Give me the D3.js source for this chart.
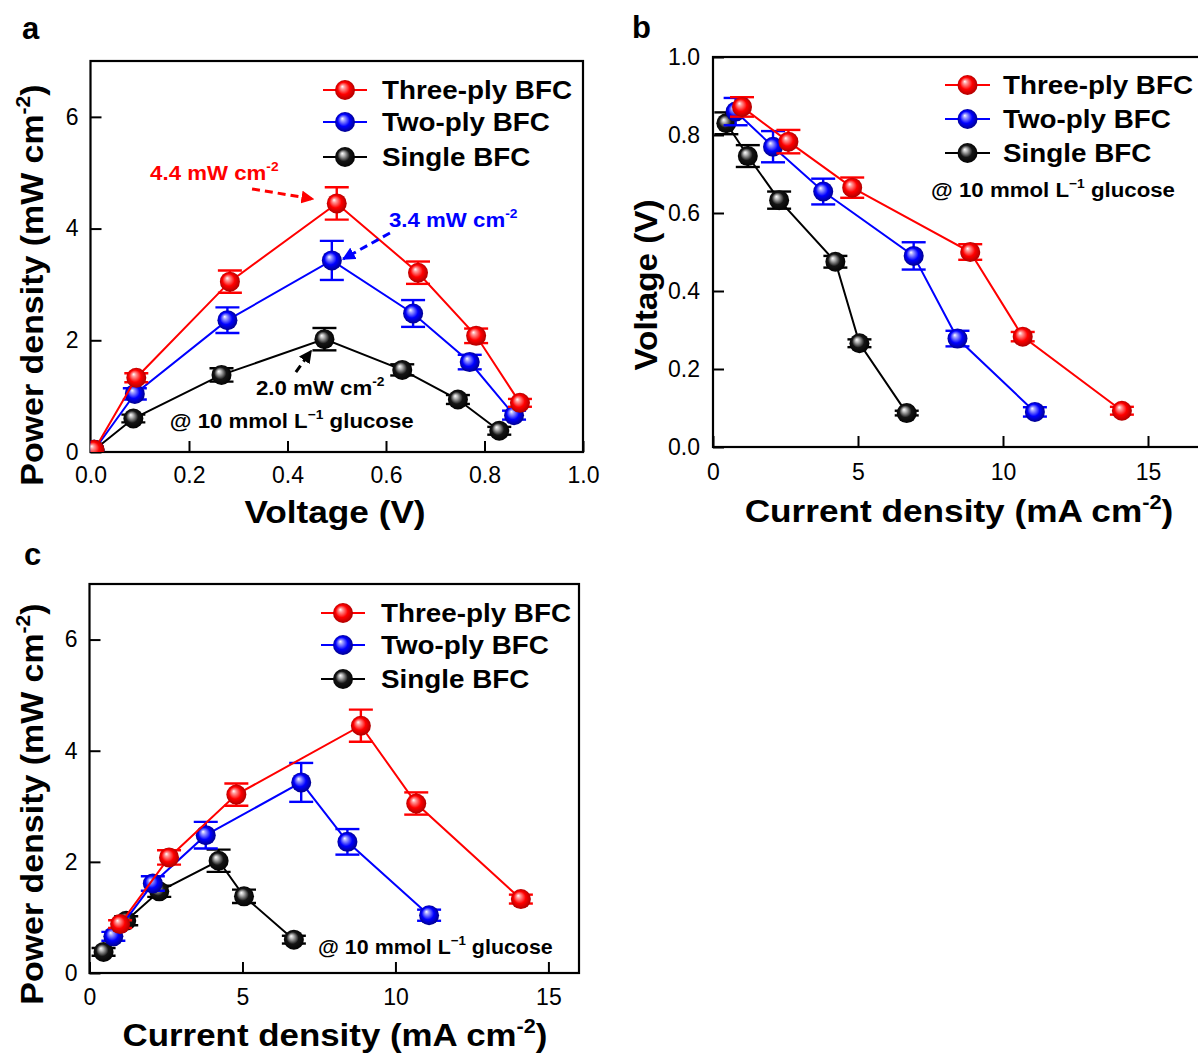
<!DOCTYPE html>
<html><head><meta charset="utf-8">
<script src="https://cdn.jsdelivr.net/npm/d3@7"></script>
<style>
body{margin:0;background:#fff}
svg{display:block}
text{font-family:"Liberation Sans",Arial,Helvetica,sans-serif}
</style>
</head><body>
<svg id="fig" width="1198" height="1054"></svg>
<script>
// ---------------- DATA ----------------
const seriesNames  = ["Three-ply BFC", "Two-ply BFC", "Single BFC"];
const seriesKeys   = ["three", "two", "single"];
const seriesColors = {three: "#ff0000", two: "#0000ff", single: "#000000"};

// Current density (mA cm-2)
const currentThree  = [1.0, 2.6, 4.8, 8.87, 10.68, 14.1];
const currentTwo    = [0.78, 2.07, 3.8, 6.92, 8.43, 11.1];
const currentSingle = [0.46, 1.2, 2.28, 4.22, 5.05, 6.68];

// Voltage (V)
const voltageThree  = [0.872, 0.783, 0.665, 0.50, 0.283, 0.093];
const voltageTwo    = [0.86, 0.77, 0.655, 0.49, 0.278, 0.09];
const voltageSingle = [0.83, 0.746, 0.633, 0.475, 0.266, 0.087];
const voltageErrThree  = [0.025, 0.03, 0.026, 0.02, 0.012, 0.01];
const voltageErrTwo    = [0.035, 0.04, 0.033, 0.035, 0.02, 0.012];
const voltageErrSingle = [0.028, 0.028, 0.022, 0.015, 0.01, 0.006];

// Power density (mW cm-2)
const powerThree  = [0.88, 2.08, 3.21, 4.45, 3.05, 1.33];
const powerTwo    = [0.66, 1.61, 2.48, 3.43, 2.36, 1.04];
const powerSingle = [0.38, 0.94, 1.47, 2.02, 1.38, 0.6];
const powerErrThree  = [0.07, 0.13, 0.2, 0.29, 0.2, 0.08];
const powerErrTwo    = [0.08, 0.13, 0.24, 0.35, 0.23, 0.1];
const powerErrSingle = [0.07, 0.08, 0.1, 0.2, 0.12, 0.07];

// Panel a starts every curve at the origin
const originVoltage = 0.008;
const originPower   = 0.04;

// Tick labels
const ticksA_x = [0, 0.2, 0.4, 0.6, 0.8, 1.0];
const ticksA_y = [0, 2, 4, 6];
const ticksB_x = [0, 5, 10, 15];
const ticksB_y = [0, 0.2, 0.4, 0.6, 0.8, 1.0];
const ticksC_x = [0, 5, 10, 15];
const ticksC_y = [0, 2, 4, 6];

const peakLabels = ["4.4 mW cm", "3.4 mW cm", "2.0 mW cm"];
const glucoseLabel = "@ 10 mmol L";

// ---------------- BUILD ----------------
const table = {
  three:  {I: currentThree,  V: voltageThree,  Ve: voltageErrThree,  P: powerThree,  Pe: powerErrThree},
  two:    {I: currentTwo,    V: voltageTwo,    Ve: voltageErrTwo,    P: powerTwo,    Pe: powerErrTwo},
  single: {I: currentSingle, V: voltageSingle, Ve: voltageErrSingle, P: powerSingle, Pe: powerErrSingle}
};
const darkColors  = {three: "#a00000", two: "#00007a", single: "#000000"};
const lightColors = {three: "#ff9a9a", two: "#a0a0ff", single: "#bdbdbd"};

const svg = d3.select("#fig");
const defs = svg.append("defs");
seriesKeys.forEach(k => {
  const g = defs.append("radialGradient").attr("id", "grad-" + k)
    .attr("cx", 0.5).attr("cy", 0.5).attr("r", 0.55).attr("fx", 0.36).attr("fy", 0.32);
  g.append("stop").attr("offset", "0%").attr("stop-color", "#ffffff");
  g.append("stop").attr("offset", "18%").attr("stop-color", lightColors[k]);
  g.append("stop").attr("offset", "55%").attr("stop-color", k === "single" ? "#151515" : seriesColors[k]);
  g.append("stop").attr("offset", "100%").attr("stop-color", darkColors[k]);
  defs.append("marker").attr("id", "arrow-" + k)
    .attr("viewBox", "0 0 10 10").attr("refX", 9).attr("refY", 5)
    .attr("markerUnits", "userSpaceOnUse").attr("markerWidth", 13).attr("markerHeight", 13)
    .attr("orient", "auto")
    .append("path").attr("d", "M0,0 L10,5 L0,10 Z").attr("fill", seriesColors[k]);
});

// text with optional superscripts; sx stretches along the reading direction
function richText(g, parts, o) {
  const sx = o.sx || 1;
  const tf = o.rotate
    ? `translate(${o.x},${o.y}) rotate(${o.rotate}) scale(${sx},1)`
    : `translate(${o.x},${o.y}) scale(${sx},1)`;
  const t = g.append("text")
    .attr("transform", tf)
    .attr("text-anchor", o.anchor || "start")
    .attr("font-size", o.size).attr("font-weight", o.weight || "bold")
    .attr("fill", o.fill || "#000");
  let raised = false;
  const shift = o.size * 0.42;
  parts.forEach(p => {
    const ts = t.append("tspan").text(p.t);
    if (p.sup && !raised) { ts.attr("dy", -shift).attr("font-size", o.size * 0.62); raised = true; }
    else if (p.sup) { ts.attr("font-size", o.size * 0.62); }
    else if (raised) { ts.attr("dy", shift); raised = false; }
  });
  return t;
}

function drawPanel(cfg) {
  const g = svg.append("g");
  const x = cfg.x, y = cfg.y;
  const [x0, x1] = x.range(), [y0, y1] = y.range();
  const clipId = "clip-" + cfg.id;
  defs.append("clipPath").attr("id", clipId).append("rect")
    .attr("x", x0).attr("y", y1).attr("width", x1 - x0).attr("height", y0 - y1);

  // axes
  const ax = g.append("g").attr("transform", `translate(0,${y0})`)
    .call(d3.axisBottom(x).tickValues(cfg.xTicks).tickFormat(cfg.xFmt).tickSize(-11).tickPadding(cfg.xPad));
  const ay = g.append("g").attr("transform", `translate(${x0},0)`)
    .call(d3.axisLeft(y).tickValues(cfg.yTicks).tickFormat(cfg.yFmt).tickSize(-11).tickPadding(cfg.yPad));
  [ax, ay].forEach(a => {
    a.select(".domain").remove();
    a.selectAll(".tick line").attr("stroke", "#000").attr("stroke-width", 2);
    a.selectAll(".tick text").attr("fill", "#000").attr("font-size", 23)
      .attr("font-family", "'Liberation Sans', Arial, sans-serif");
  });
  // frame
  g.append("rect").attr("x", x0).attr("y", y1).attr("width", x1 - x0).attr("height", y0 - y1)
    .attr("fill", "none").attr("stroke", "#000").attr("stroke-width", 2.2);

  const plot = g.append("g").attr("clip-path", `url(#${clipId})`);
  const order = ["single", "two", "three"];
  order.forEach(k => {
    const pts = cfg.points(k);
    const col = seriesColors[k];
    plot.append("path").datum(pts)
      .attr("d", d3.line().x(d => x(d.x)).y(d => y(d.y)))
      .attr("fill", "none").attr("stroke", col).attr("stroke-width", 2);
    const eb = plot.append("g").attr("stroke", col).attr("stroke-width", 2.4);
    pts.filter(d => d.e > 0).forEach(d => {
      const cx = x(d.x), ylo = y(d.y - d.e), yhi = y(d.y + d.e);
      eb.append("line").attr("x1", cx).attr("x2", cx).attr("y1", ylo).attr("y2", yhi);
      eb.append("line").attr("x1", cx - 12).attr("x2", cx + 12).attr("y1", ylo).attr("y2", ylo);
      eb.append("line").attr("x1", cx - 12).attr("x2", cx + 12).attr("y1", yhi).attr("y2", yhi);
    });
    plot.append("g").selectAll("circle").data(pts).join("circle")
      .attr("cx", d => x(d.x)).attr("cy", d => y(d.y)).attr("r", 10)
      .attr("fill", `url(#grad-${k})`);
  });

  // legend
  const L = cfg.legend;
  seriesKeys.forEach((k, i) => {
    const yy = L.rows[i];
    g.append("line").attr("x1", L.x1).attr("x2", L.x2).attr("y1", yy).attr("y2", yy)
      .attr("stroke", seriesColors[k]).attr("stroke-width", 2);
    g.append("circle").attr("cx", (L.x1 + L.x2) / 2).attr("cy", yy).attr("r", 10)
      .attr("fill", `url(#grad-${k})`);
    g.append("text").attr("transform", `translate(${L.tx},${yy}) scale(1.07,1)`).attr("dy", "0.36em")
      .attr("font-size", 26).attr("font-weight", "bold").attr("fill", "#000")
      .text(seriesNames[i]);
  });

  // axis titles
  richText(g, cfg.xTitle, {x: cfg.xTitlePos[0], y: cfg.xTitlePos[1], anchor: "middle", size: 32, sx: cfg.xTitleSx});
  richText(g, cfg.yTitle, {x: cfg.yTitlePos[0], y: cfg.yTitlePos[1], anchor: "middle", size: 32,
    rotate: -90, sx: cfg.yTitleSx});
  // panel letter
  g.append("text").attr("x", cfg.letterPos[0]).attr("y", cfg.letterPos[1])
    .attr("font-size", 31).attr("font-weight", "bold").text(cfg.letter);
  return g;
}

const ptsOf = (xs, ys, es) => xs.map((v, i) => ({x: v, y: ys[i], e: es[i]}));
const powerTitle = [{t: "Power density (mW cm"}, {t: "-2", sup: true}, {t: ")"}];
const currentTitle = [{t: "Current density (mA cm"}, {t: "-2", sup: true}, {t: ")"}];
const glucoseParts = [{t: glucoseLabel}, {t: "\u22121", sup: true}, {t: " glucose"}];

// ---------- Panel a ----------
const xA = d3.scaleLinear().domain([0, 1]).range([90.5, 583]);
const yA = d3.scaleLinear().domain([0, 7]).range([452, 61]);
const gA = drawPanel({
  id: "a", x: xA, y: yA, xTicks: ticksA_x, yTicks: ticksA_y,
  xFmt: d3.format(".1f"), yFmt: d3.format("d"), xPad: 15, yPad: 12,
  points: k => [{x: originVoltage, y: originPower, e: 0}]
    .concat(ptsOf(table[k].V, table[k].P, table[k].Pe).reverse()),
  legend: {x1: 323, x2: 367, tx: 382, rows: [90, 122, 157]},
  xTitle: [{t: "Voltage (V)"}], xTitlePos: [335, 523], xTitleSx: 1.1,
  yTitle: powerTitle, yTitlePos: [43, 285], yTitleSx: 1.06,
  letter: "a", letterPos: [22, 39]
});
// annotations panel a (in data units)
const annA = [
  {k: "three", text: [0.121, 4.87], from: [0.328, 4.71], to: [0.452, 4.53], label: peakLabels[0]},
  {k: "two",   text: [0.606, 4.03], from: [0.608, 3.92], to: [0.513, 3.455], label: peakLabels[1]},
  {k: "single",text: [0.336, 1.02], from: [0.417, 1.43], to: [0.448, 1.81], label: peakLabels[2]}
];
annA.forEach(a => {
  richText(gA, [{t: a.label}, {t: "-2", sup: true}],
    {x: xA(a.text[0]), y: yA(a.text[1]), size: 21, sx: 1.06, fill: seriesColors[a.k]});
  gA.append("line").attr("x1", xA(a.from[0])).attr("y1", yA(a.from[1]))
    .attr("x2", xA(a.to[0])).attr("y2", yA(a.to[1]))
    .attr("stroke", seriesColors[a.k]).attr("stroke-width", 3)
    .attr("stroke-dasharray", "8,5").attr("marker-end", `url(#arrow-${a.k})`);
});
richText(gA, glucoseParts, {x: xA(0.161), y: yA(0.43), size: 21, sx: 1.06});

// ---------- Panel b ----------
const xB = d3.scaleLinear().domain([0, 17]).range([713, 1206]);
const yB = d3.scaleLinear().domain([0, 1]).range([447, 57]);
const gB = drawPanel({
  id: "b", x: xB, y: yB, xTicks: ticksB_x, yTicks: ticksB_y,
  xFmt: d3.format("d"), yFmt: d3.format(".1f"), xPad: 17, yPad: 13,
  points: k => ptsOf(table[k].I, table[k].V, table[k].Ve),
  legend: {x1: 945, x2: 990, tx: 1003, rows: [85, 119, 153]},
  xTitle: currentTitle, xTitlePos: [959, 522], xTitleSx: 1.1,
  yTitle: [{t: "Voltage (V)"}], yTitlePos: [657, 285], yTitleSx: 1.04,
  letter: "b", letterPos: [632, 38]
});
richText(gB, glucoseParts, {x: xB(7.52), y: yB(0.641), size: 21, sx: 1.06});

// ---------- Panel c ----------
const xC = d3.scaleLinear().domain([0, 16]).range([89.5, 579]);
const yC = d3.scaleLinear().domain([0, 7]).range([973, 584]);
const gC = drawPanel({
  id: "c", x: xC, y: yC, xTicks: ticksC_x, yTicks: ticksC_y,
  xFmt: d3.format("d"), yFmt: d3.format("d"), xPad: 16, yPad: 12,
  points: k => ptsOf(table[k].I, table[k].P, table[k].Pe),
  legend: {x1: 321, x2: 365, tx: 381, rows: [613, 645, 679]},
  xTitle: currentTitle, xTitlePos: [335, 1046], xTitleSx: 1.09,
  yTitle: powerTitle, yTitlePos: [43, 804], yTitleSx: 1.06,
  letter: "c", letterPos: [24, 565]
});
richText(gC, glucoseParts, {x: xC(7.47), y: yC(0.34), size: 21, sx: 1.02});
</script>
</body></html>
